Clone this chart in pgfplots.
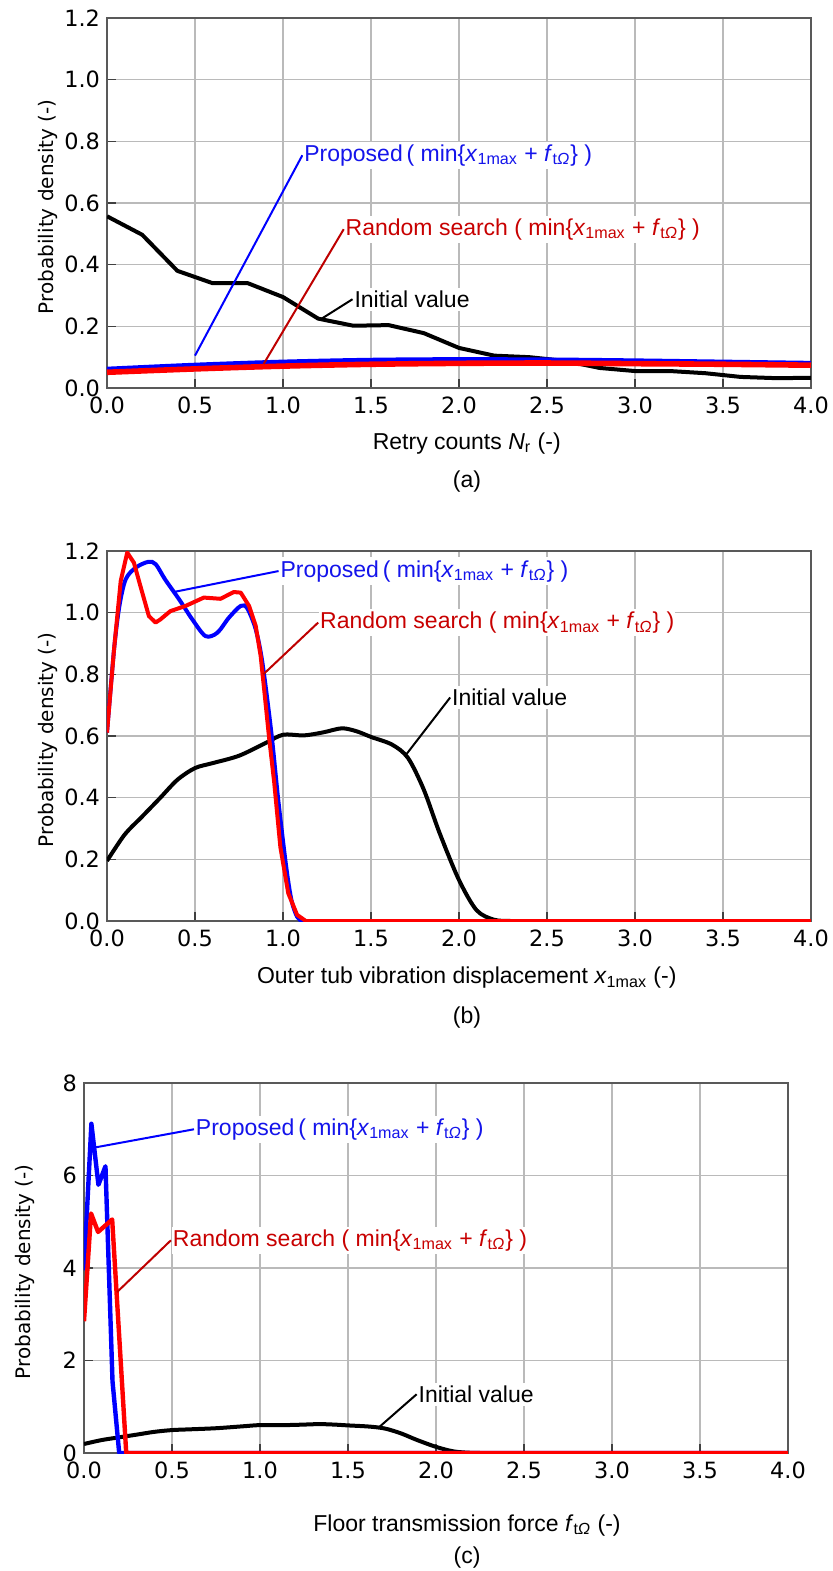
\documentclass[border=0pt]{standalone}
\usepackage{fontspec}
\setmainfont{Liberation Sans}
\newfontfamily\tickfont{DejaVu Sans}
\usepackage{pgfplots}
\pgfplotsset{compat=1.18}

\definecolor{pblue}{RGB}{0,0,255}
\definecolor{pred}{RGB}{255,0,0}
\definecolor{tblue}{RGB}{20,20,235}
\definecolor{tred}{RGB}{200,0,0}
\definecolor{lred}{RGB}{190,0,0}

\newcommand{\lab}{\fontsize{11.5}{13.8}\selectfont}
\newcommand{\crit}{( min\{\textit{x}\textsubscript{1max} + \textit{f}\textsubscript{t\textit{Ω}}\} )}

\tikzset{note/.style={anchor=west, fill=white, font=\lab, inner xsep=0.5pt, inner ysep=1.5pt}}

\pgfplotsset{
  panel/.style={
    scale only axis, width=352pt, height=185pt,
    xmin=0, xmax=4, ymin=0,
    xtick={0,0.5,...,4},
    grid=major,
    major grid style={draw=black!27, line width=0.75pt},
    axis line style={draw=black!65, line width=0.75pt},
    tick align=inside, major tick length=4.5pt,
    tick style={draw=black!75, line width=0.75pt},
    tick pos=left,
    ticklabel style={font=\tickfont\fontsize{11.2}{13}\selectfont},
    /pgf/number format/assume math mode=true,
    xticklabel style={/pgf/number format/fixed, /pgf/number format/fixed zerofill, /pgf/number format/precision=1, yshift=-1pt},
    ylabel={Probability density (-)},
    ylabel style={font=\tickfont\fontsize{10}{12}\selectfont, at={(axis description cs:-0.084,0.49)}, anchor=center},
    xlabel style={font=\lab, anchor=center},
  },
}

% Initial value density of the retry counts
\pgfplotstableread{
x y
0.0 0.557
0.2 0.497
0.4 0.380
0.6 0.340
0.8 0.340
1.0 0.295
1.2 0.225
1.4 0.202
1.6 0.204
1.8 0.178
2.0 0.130
2.2 0.105
2.4 0.100
2.6 0.088
2.8 0.065
3.0 0.055
3.2 0.055
3.4 0.048
3.6 0.036
3.8 0.032
4.0 0.033
}\retryinit
\pgfplotstableread{
x y
0.0 0.060
0.5 0.073
1.0 0.083
1.5 0.089
2.0 0.091
2.5 0.090
3.0 0.087
3.5 0.083
4.0 0.079
}\retryprop
\pgfplotstableread{
x y
0.0 0.051
0.5 0.062
1.0 0.071
1.5 0.077
2.0 0.080
2.5 0.081
3.0 0.079
3.5 0.077
4.0 0.074
}\retryrand

% Initial value density (displacement and force share this shape)
\pgfplotstableread{
x y
0.0 0.195
0.1 0.280
0.2 0.339
0.3 0.398
0.4 0.458
0.5 0.496
0.6 0.512
0.75 0.536
0.9 0.577
1.0 0.604
1.12 0.602
1.23 0.612
1.335 0.625
1.42 0.615
1.5 0.597
1.62 0.572
1.71 0.529
1.8 0.426
1.89 0.285
2.0 0.133
2.1 0.035
2.2 0.004
2.3 0.0
2.4 0.0
2.5 0.0
2.75 0.0
3.0 0.0
3.5 0.0
4.0 0.0
}\dispinit
\pgfplotstableread{
x y
0.0 0.611
0.04 0.880
0.07 1.020
0.106 1.108
0.163 1.146
0.235 1.165
0.277 1.157
0.33 1.108
0.41 1.043
0.485 0.978
0.56 0.924
0.627 0.935
0.693 0.984
0.76 1.022
0.797 1.014
0.845 0.946
0.883 0.838
0.934 0.610
0.973 0.393
1.018 0.177
1.048 0.068
1.08 0.014
1.11 0.0
1.14 0.0
1.2 0.0
1.3 0.0
1.5 0.0
2.0 0.0
2.5 0.0
3.0 0.0
3.5 0.0
4.0 0.0
}\dispprop
\pgfplotstableread{
x y
0.0 0.611
0.04 0.881
0.078 1.103
0.115 1.195
0.153 1.162
0.19 1.086
0.238 0.989
0.276 0.968
0.303 0.978
0.36 1.005
0.447 1.022
0.55 1.049
0.645 1.045
0.72 1.067
0.76 1.065
0.807 1.022
0.845 0.957
0.873 0.860
0.895 0.740
0.92 0.600
0.95 0.450
0.985 0.240
1.03 0.090
1.08 0.020
1.13 0.0
4.0 0.0
}\disprand

% Floor transmission force
\pgfplotstableread{
x y
0.0 3.95
0.042 7.12
0.082 5.80
0.122 6.20
0.162 1.55
0.2 0.0
4.0 0.0
}\forceprop
\pgfplotstableread{
x y
0.0 2.85
0.04 5.18
0.08 4.78
0.16 5.05
0.24 0.0
4.0 0.0
}\forcerand

\begin{document}
\begin{tikzpicture}
\path[use as bounding box] (0,0) rectangle (416.5pt,-785.5pt);

% (a) retry counts
\begin{axis}[panel, at={(53.5pt,-194pt)}, anchor=south west,
  ymax=1.2, ytick={0,0.2,...,1.2},
  yticklabel style={/pgf/number format/fixed, /pgf/number format/fixed zerofill, /pgf/number format/precision=1},
  xlabel={Retry counts \textit{N}\textsubscript{r} (-)},
  xlabel style={at={(axis description cs:0.511,-0.149)}}]
\addplot[black, line width=2pt, line join=round] table[x=x,y=y] {\retryinit};
\addplot[pblue, line width=2.8pt, smooth] table[x=x,y=y] {\retryprop};
\addplot[pred, line width=2.8pt, smooth] table[x=x,y=y] {\retryrand};
\draw[pblue, line width=1pt] (axis cs:0.5,0.105) -- (axis cs:1.11,0.755)
  node[note, text=tblue] {Proposed\,\crit};
\draw[lred, line width=1pt] (axis cs:0.89,0.078) -- (axis cs:1.345,0.515)
  node[note, text=tred] {Random search \crit};
\draw[black, line width=1pt] (axis cs:1.22,0.225) -- (axis cs:1.395,0.288)
  node[note, text=black] {Initial value};
\end{axis}
\node[font=\lab] at (233.5pt,-241pt) {(a)};

% (b) outer tub vibration displacement
\begin{axis}[panel, at={(53.5pt,-460.5pt)}, anchor=south west,
  ymax=1.2, ytick={0,0.2,...,1.2},
  yticklabel style={/pgf/number format/fixed, /pgf/number format/fixed zerofill, /pgf/number format/precision=1},
  xlabel={Outer tub vibration displacement \textit{x}\textsubscript{1max} (-)},
  xlabel style={at={(axis description cs:0.511,-0.154)}}]
\addplot[black, line width=2pt, smooth, tension=0.5] table[x=x,y=y] {\dispinit};
\addplot[pblue, line width=2pt, smooth, tension=0.5] table[x=x,y=y] {\dispprop};
\addplot[pred, line width=2pt, line join=round] table[x=x,y=y] {\disprand};
\draw[pblue, line width=1pt] (axis cs:0.378,1.067) -- (axis cs:0.975,1.135)
  node[note, text=tblue] {Proposed\,\crit};
\draw[lred, line width=1pt] (axis cs:0.888,0.80) -- (axis cs:1.2,0.968)
  node[note, text=tred] {Random search \crit};
\draw[black, line width=1pt] (axis cs:1.70,0.54) -- (axis cs:1.95,0.725)
  node[note, text=black] {Initial value};
\end{axis}
\node[font=\lab] at (233.5pt,-509pt) {(b)};

% (c) floor transmission force
\begin{axis}[panel, at={(42pt,-726.5pt)}, anchor=south west,
  ymax=8, ytick={0,2,...,8},
  xlabel={Floor transmission force \textit{f}\textsubscript{t\textit{Ω}} (-)},
  xlabel style={at={(axis description cs:0.544,-0.195)}}]
\addplot[black, line width=2pt, smooth, tension=0.5] table[x=x,y=y] {\dispinit};
\addplot[pblue, line width=2.2pt, line join=round] table[x=x,y=y] {\forceprop};
\addplot[pred, line width=2.2pt, line join=round] table[x=x,y=y] {\forcerand};
\draw[pblue, line width=1pt] (axis cs:0.053,6.6) -- (axis cs:0.625,7.0)
  node[note, text=tblue] {Proposed\,\crit};
\draw[lred, line width=1pt] (axis cs:0.188,3.48) -- (axis cs:0.494,4.6)
  node[note, text=tred] {Random search \crit};
\draw[black, line width=1pt] (axis cs:1.677,0.56) -- (axis cs:1.89,1.27)
  node[note, text=black] {Initial value};
\end{axis}
\node[font=\lab] at (233.5pt,-779pt) {(c)};
\end{tikzpicture}
\end{document}
